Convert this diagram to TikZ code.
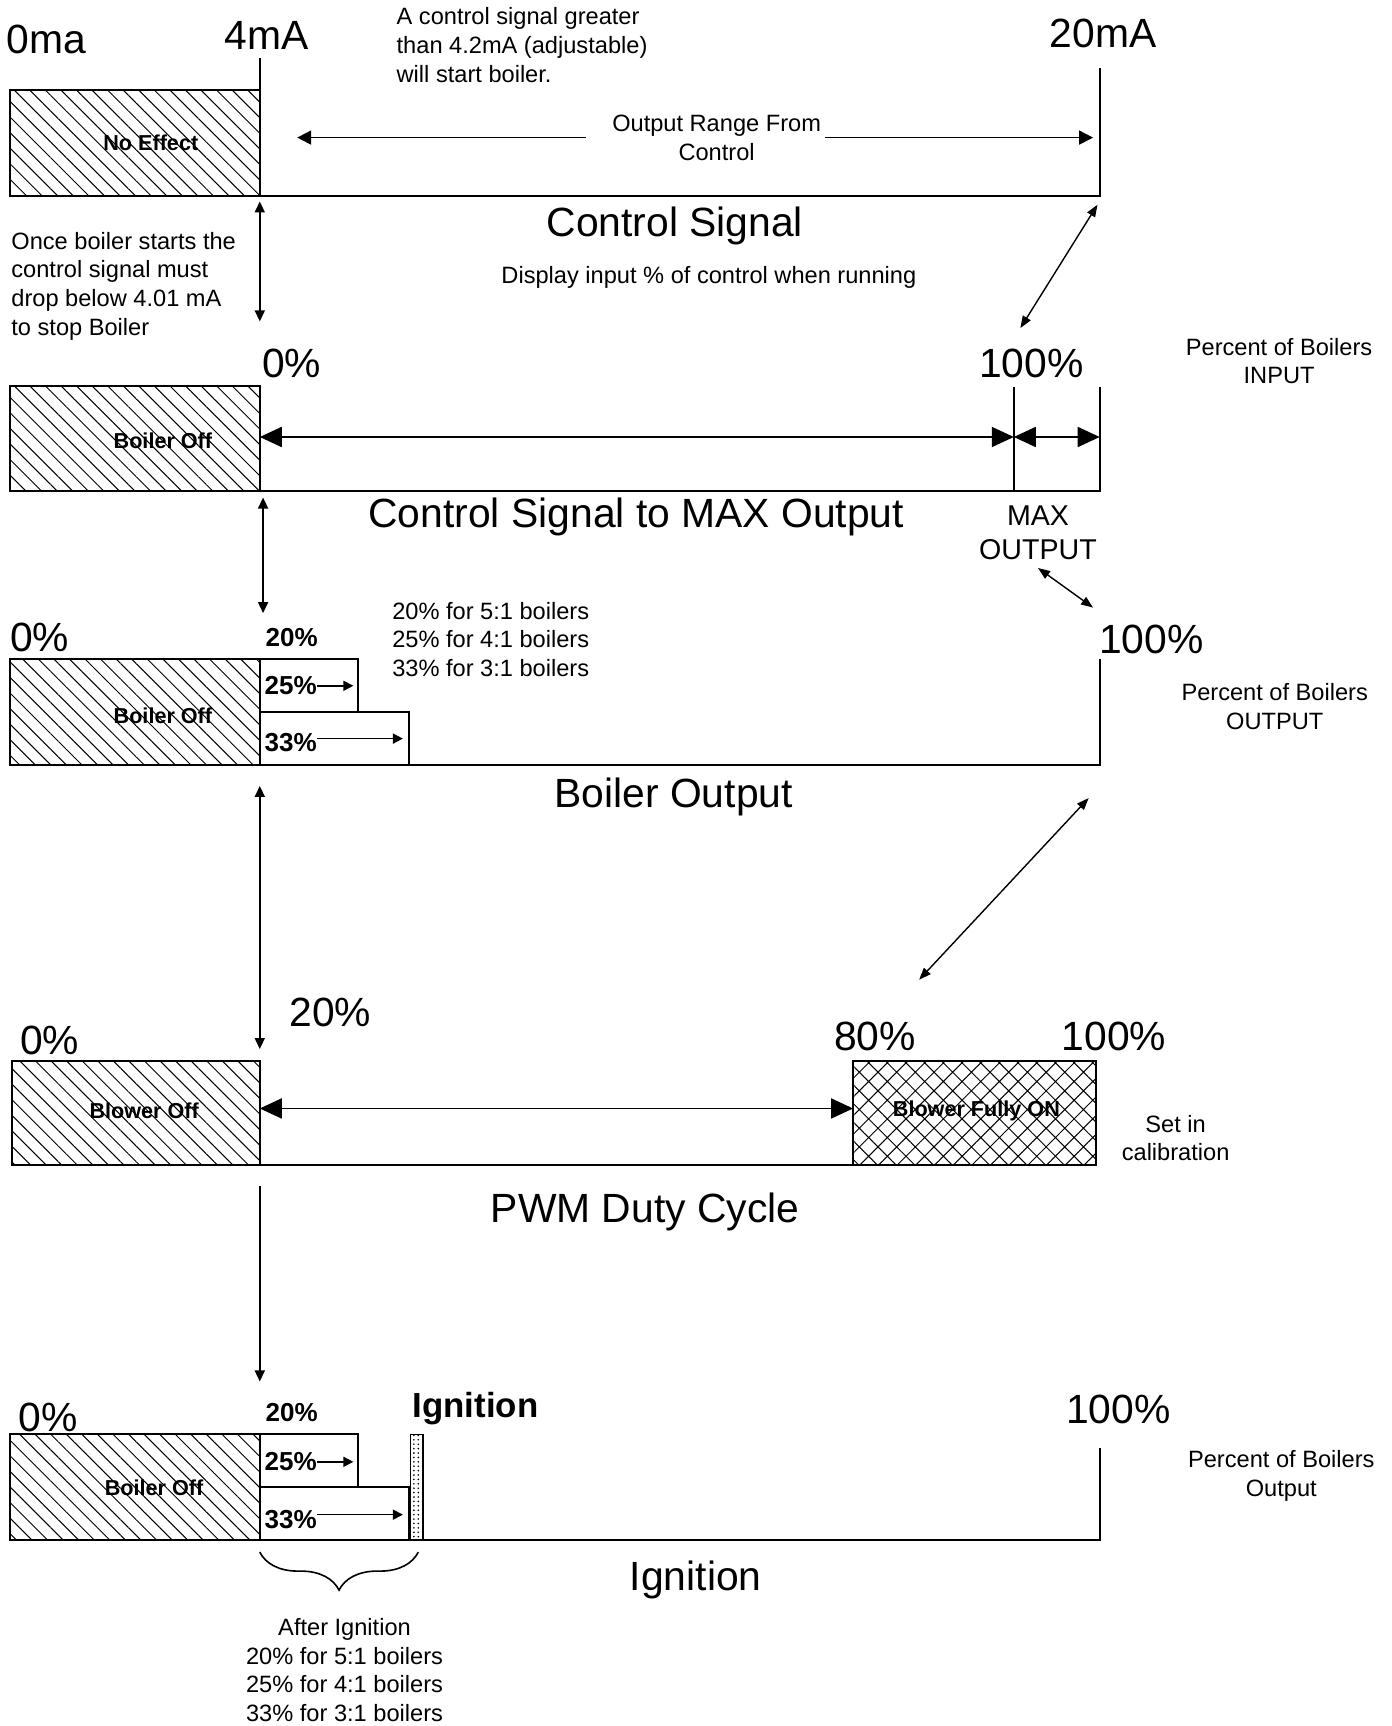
\documentclass[tikz,border=0pt]{standalone}
\usepackage{fontspec}
\setmainfont{Liberation Sans}
\usepackage{tikz}
\usetikzlibrary{arrows.meta,patterns.meta,decorations.pathreplacing}
\tikzset{
  big/.style={font=\fontsize{20.4}{24}\selectfont, inner sep=0pt},
  mid/.style={font=\fontsize{14.3}{17}\selectfont, inner sep=0pt, align=center},
  note/.style={font=\fontsize{11.8}{14.3}\selectfont, inner sep=0pt, align=left},
  notec/.style={note, align=center},
  boxlbl/.style={font=\fontsize{10.8}{12}\selectfont\bfseries, inner sep=0pt},
  pctb/.style={font=\fontsize{13}{15}\selectfont\bfseries, inner sep=0pt},
  ignlbl/.style={font=\fontsize{17.4}{20}\selectfont\bfseries, inner sep=0pt},
  axisline/.style={line width=1pt},
  offbox/.style={draw, line width=1pt, pattern={Lines[angle=-45,distance=5.5pt,line width=0.5pt]}},
  onbox/.style={draw, line width=1pt, pattern={Hatch[angle=45,distance=6.6pt,line width=0.5pt]}},
  stepbox/.style={draw, line width=1pt},
  dotbox/.style={draw, line width=0.8pt, pattern={Dots[distance=2.2pt,radius=0.45pt]}},
  varr/.style={line width=0.8pt, {Triangle[length=5.5pt,width=5pt]}-{Triangle[length=5.5pt,width=5pt]}},
  darr/.style={line width=0.7pt, {Triangle[length=6pt,width=4.5pt]}-{Triangle[length=6pt,width=4.5pt]}},
  bigarr/.style={line width=0.9pt, {Triangle[length=11pt,width=10pt]}-{Triangle[length=11pt,width=10pt]}},
  sarr/.style={line width=0.9pt, -{Triangle[length=7pt,width=7pt]}},
  tarr/.style={line width=0.8pt, -{Triangle[length=5pt,width=5pt]}},
  downarr/.style={line width=0.8pt, -{Triangle[length=5.5pt,width=5pt]}},
  ignbrace/.style={line width=0.8pt, decorate, decoration={brace, mirror, amplitude=19pt}},
}

\begin{document}
\begin{tikzpicture}[x=0.55pt,y=-0.55pt]
  \useasboundingbox (0,0) rectangle (1264,1568);

  % control signal
  \draw[offbox] (9,82) rectangle (236,178);
  \draw[axisline] (236,53) -- (236,178) (9,178) -- (999,178) -- (999,62);
  \node[boxlbl] (noeffect) at (137,130) {No Effect};
  \node[big] (ma0) at (42,36) {0ma};
  \node[big] (ma4) at (242,32) {4mA};
  \node[big] (ma20) at (1002,30) {20mA};
  \node[note, anchor=west] (startnote) at (360,41) {A control signal greater\\than 4.2mA (adjustable)\\will start boiler.};
  \node[notec] (range) at (651,125) {Output Range From\\Control};
  \coordinate (rngL) at (270,125);
  \coordinate (rngR) at (993,125);
  \draw[sarr] ([xshift=-13pt]range.west) -- (rngL);
  \draw[sarr] ([xshift=2pt]range.east) -- (rngR);
  \node[big] (csig) at (613,205) {Control Signal};
  \node[notec] (display) at (644,252) {Display input \% of control when running};
  \node[note, anchor=west] (stopnote) at (10,260) {Once boiler starts the\\control signal must\\drop below 4.01 mA\\to stop Boiler};
  \coordinate (v1a) at (236,183);
  \coordinate (v1b) at (236,292);
  \draw[varr] (v1a) -- (v1b);
  \coordinate (d1a) at (997,186);
  \coordinate (d1b) at (927,298);
  \draw[darr] (d1a) -- (d1b);

  % control signal to max output
  \draw[offbox] (9,351) rectangle (236,446);
  \draw[axisline] (9,446) -- (999,446) -- (999,352) (921,352) -- (921,446);
  \node[boxlbl] (off1) at (148,400) {Boiler Off};
  \node[big] (in0) at (265,330) {0\%};
  \node[big] (in100) at (937,330) {100\%};
  \node[notec] (pin) at (1162,328) {Percent of Boilers\\INPUT};
  \coordinate (r2a) at (236,397);
  \coordinate (r2b) at (921,397);
  \coordinate (r2c) at (999,397);
  \draw[bigarr] (r2a) -- (r2b);
  \draw[bigarr] (r2b) -- (r2c);
  \node[big] (csmax) at (578,470) {Control Signal to MAX Output};
  \node[mid] (maxout) at (943,484) {MAX\\OUTPUT};
  \coordinate (v2a) at (239,452);
  \coordinate (v2b) at (239,557);
  \draw[varr] (v2a) -- (v2b);
  \coordinate (d2a) at (943,516);
  \coordinate (d2b) at (993,552);
  \draw[darr] (d2a) -- (d2b);

  % boiler output
  \node[big] (out0) at (36,579) {0\%};
  \node[pctb] (out20) at (265,579) {20\%};
  \node[note, anchor=west] (ratios) at (356,581) {20\% for 5:1 boilers\\25\% for 4:1 boilers\\33\% for 3:1 boilers};
  \node[big] (out100) at (1046,581) {100\%};
  \node[notec] (pout) at (1158,642) {Percent of Boilers\\OUTPUT};
  \draw[offbox] (9,599) rectangle (236,695);
  \draw[stepbox] (236,599) rectangle (325,647);
  \draw[stepbox] (236,647) rectangle (372,695);
  \draw[axisline] (9,695) -- (999,695) -- (999,599);
  \node[boxlbl] (off2) at (148,650) {Boiler Off};
  \node[pctb] (out25) at (264,623) {25\%};
  \node[pctb] (out33) at (264,675) {33\%};
  \draw[tarr] (out25.east) -- ++(33,0);
  \draw[tarr] (out33.east) ++(0,-4) -- ++(78,0);
  \node[big] (bout) at (612,724) {Boiler Output};
  \coordinate (v3a) at (236,714);
  \coordinate (v3b) at (236,953);
  \draw[varr] (v3a) -- (v3b);
  \coordinate (d3a) at (989,725);
  \coordinate (d3b) at (835,890);
  \draw[darr] (d3a) -- (d3b);

  % pwm duty cycle
  \node[big] (pwm20) at (300,920) {20\%};
  \node[big] (pwm0) at (45,945) {0\%};
  \node[big] (pwm80) at (795,942) {80\%};
  \node[big] (pwm100) at (1012,942) {100\%};
  \draw[offbox] (11,964) rectangle (236,1058);
  \draw[onbox] (775,964) rectangle (996,1058);
  \draw[axisline] (11,1058) -- (775,1058);
  \node[boxlbl] (bloff) at (131,1009) {Blower Off};
  \node[boxlbl] (blon) at (887,1009) {Blower Fully ON};
  \coordinate (r4a) at (236,1007);
  \coordinate (r4b) at (775,1007);
  \draw[bigarr] (r4a) -- (r4b);
  \node[notec] (setcal) at (1068,1034) {Set in\\calibration};
  \node[big] (pwm) at (586,1101) {PWM Duty Cycle};
  \coordinate (v4a) at (236,1077);
  \coordinate (v4b) at (236,1255);
  \draw[downarr] (v4a) -- (v4b);

  % ignition
  \node[big] (ig0) at (44,1288) {0\%};
  \node[pctb] (ig20) at (265,1283) {20\%};
  \node[ignlbl] (ignb) at (432,1280) {Ignition};
  \node[big] (ig100) at (1016,1280) {100\%};
  \node[notec] (pout2) at (1164,1341) {Percent of Boilers\\Output};
  \draw[offbox] (9,1303) rectangle (236,1399);
  \draw[stepbox] (236,1303) rectangle (325,1351);
  \draw[stepbox] (236,1351) rectangle (372,1399);
  \draw[dotbox] (373,1303) rectangle (384,1399);
  \draw[axisline] (9,1399) -- (999,1399) -- (999,1315);
  \node[boxlbl] (off3) at (140,1352) {Boiler Off};
  \node[pctb] (ig25) at (264,1328) {25\%};
  \node[pctb] (ig33) at (264,1380) {33\%};
  \draw[tarr] (ig25.east) -- ++(33,0);
  \draw[tarr] (ig33.east) ++(0,-4) -- ++(78,0);
  \node[big] (ign) at (632,1435) {Ignition};
  \coordinate (brA) at (236,1410);
  \coordinate (brB) at (380,1410);
  \draw[ignbrace] (brA) -- (brB);
  \node[notec] (after) at (313,1517) {After Ignition\\20\% for 5:1 boilers\\25\% for 4:1 boilers\\33\% for 3:1 boilers};
\end{tikzpicture}
\end{document}
